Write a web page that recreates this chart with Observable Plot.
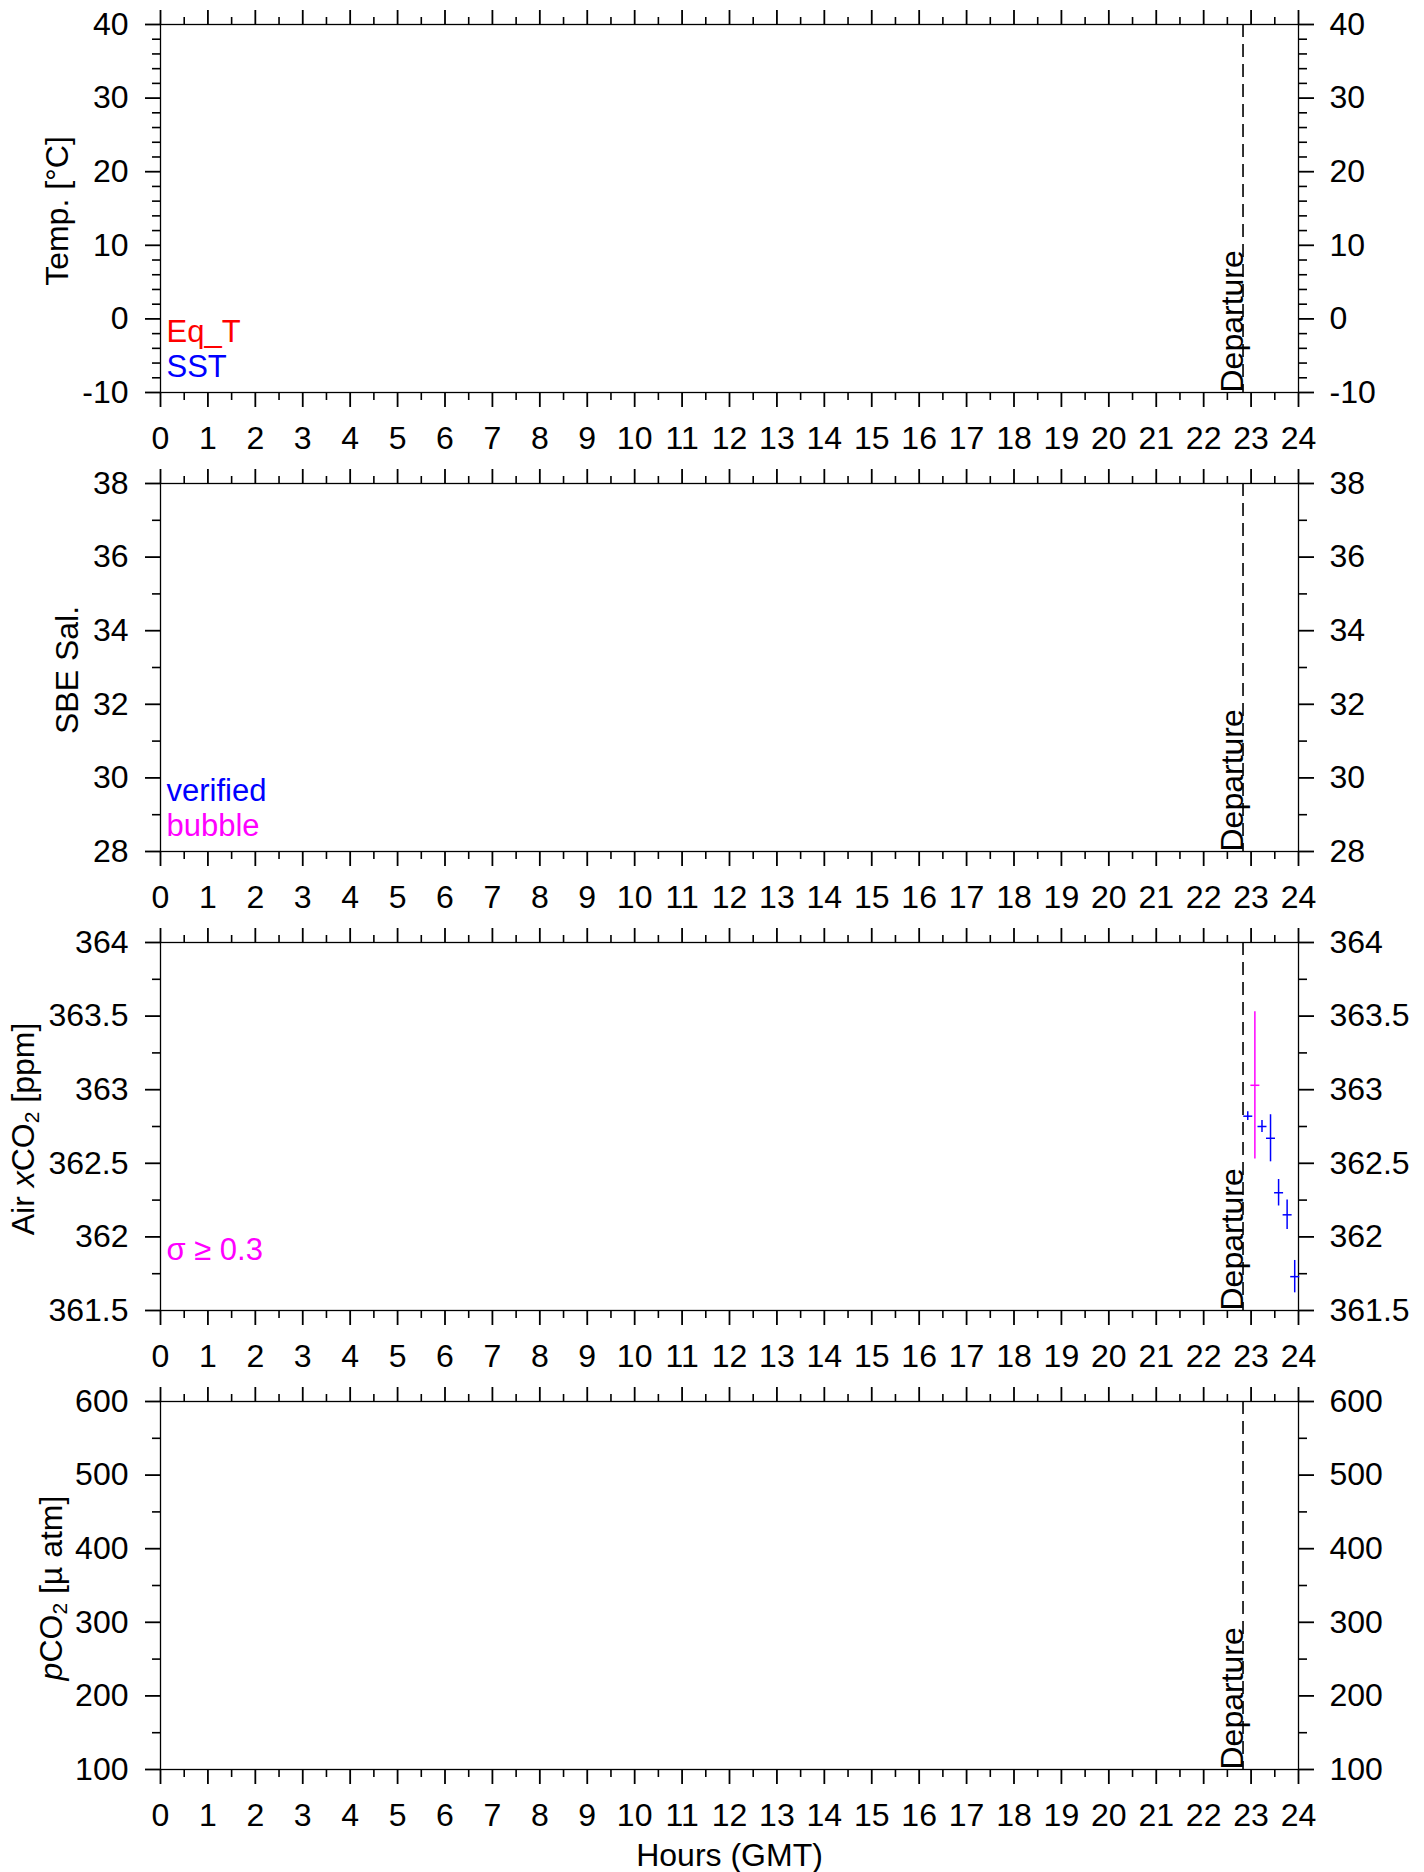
<!DOCTYPE html>
<html>
<head>
<meta charset="utf-8">
<script src="https://cdn.jsdelivr.net/npm/d3@7"></script>
<script src="https://cdn.jsdelivr.net/npm/@observablehq/plot@0.6"></script>
<style>
  body { margin: 0; background: #fff; }
  #chart { width: 1424px; }
  #chart svg { display: block; }
</style>
</head>
<body>
<div id="chart"></div>
<script>
// ---------- data ----------
const hourTicks = [0,1,2,3,4,5,6,7,8,9,10,11,12,13,14,15,16,17,18,19,20,21,22,23,24];
const departureHour = [22.83];
const departureLabel = "Departure";
const xTitle = "Hours (GMT)";

const tempTicks = [-10, 0, 10, 20, 30, 40];
const salTicks = [28, 30, 32, 34, 36, 38];
const xco2Ticks = [361.5, 362, 362.5, 363, 363.5, 364];
const pco2Ticks = [100, 200, 300, 400, 500, 600];

const xco2Hours  = [22.93, 23.08, 23.23, 23.41, 23.58, 23.76, 23.92];
const xco2Values = [362.82, 363.03, 362.75, 362.67, 362.30, 362.15, 361.73];
const xco2Sigma  = [0.03, 0.50, 0.04, 0.16, 0.09, 0.10, 0.11];
const xco2Flag   = ["verified", "bubble", "verified", "verified", "verified", "verified", "verified"];

const tempLegend = ["Eq_T", "SST"];
const tempLegendColors = ["#ff0000", "#0000ff"];
const salLegend = ["verified", "bubble"];
const salLegendColors = ["#0000ff", "#ff00ff"];
const xco2Legend = ["σ ≥ 0.3"];
const xco2LegendColors = ["#ff00ff"];

// ---------- layout ----------
const W = 1424, ML = 160, MR = 126, MT = 24, PH = 368, GAP = 67;
const FONT = "'Liberation Sans', Arial, Helvetica, sans-serif";
const FS = 32;
const fmt = d => String(d);
const blank = () => "";
const hourMinor = d3.range(0.5, 24, 1);
const legendDy = [-51, -16];

const hbar = {
  draw(ctx, size) {
    const r = Math.sqrt(size / Math.PI);
    ctx.moveTo(-r, 0);
    ctx.lineTo(r, 0);
  }
};

function panel(cfg) {
  const last = !!cfg.last;
  const H = MT + PH + (last ? 103 : GAP);
  const marks = [
    Plot.frame({stroke: "#000", strokeWidth: 1.3}),
    Plot.axisX({anchor: "bottom", ticks: hourMinor, tickSize: 8, tickFormat: blank, label: null, strokeWidth: 1.6}),
    Plot.axisX({anchor: "bottom", ticks: hourTicks, tickSize: 15, tickPadding: 19, tickFormat: fmt, label: null, strokeWidth: 1.8, fontSize: FS}),
    Plot.axisX({anchor: "top", ticks: hourMinor, tickSize: 8, tickFormat: blank, label: null, strokeWidth: 1.6}),
    Plot.axisX({anchor: "top", ticks: hourTicks, tickSize: 15, tickFormat: blank, label: null, strokeWidth: 1.8}),
    Plot.axisY({anchor: "left", ticks: cfg.yMinor, tickSize: 8, tickFormat: blank, label: null, strokeWidth: 1.6}),
    Plot.axisY({anchor: "left", ticks: cfg.yTicks, tickSize: 15, tickPadding: 17, tickFormat: fmt, label: null, strokeWidth: 1.8, fontSize: FS}),
    Plot.axisY({anchor: "right", ticks: cfg.yMinor, tickSize: 8, tickFormat: blank, label: null, strokeWidth: 1.6}),
    Plot.axisY({anchor: "right", ticks: cfg.yTicks, tickSize: 15, tickPadding: 16, tickFormat: fmt, label: null, strokeWidth: 1.8, fontSize: FS}),
    Plot.ruleX(departureHour, {x: d => d, stroke: "#000", strokeWidth: 1.6, strokeDasharray: "13,7"}),
    Plot.text(departureHour, {x: d => d, frameAnchor: "bottom", text: () => departureLabel, rotate: -90,
      textAnchor: "start", lineAnchor: "bottom", fontSize: FS, fill: "#000"}),
    ...cfg.legend.map((l, i) => Plot.text([l], {text: d => d, frameAnchor: "bottom-left", dx: 6, dy: legendDy[i],
      textAnchor: "start", lineAnchor: "bottom", fontSize: 31, fill: cfg.legendColors[i]}))
  ];
  if (cfg.extra) marks.push(...cfg.extra);
  if (last) marks.push(Plot.text([xTitle], {text: d => d, frameAnchor: "bottom", dy: 96, lineAnchor: "bottom", fontSize: FS, fill: "#000"}));
  const svg = Plot.plot({
    width: W, height: H,
    marginLeft: ML, marginRight: MR, marginTop: MT, marginBottom: H - MT - PH,
    style: {fontFamily: FONT, fontSize: "30px", color: "#000", background: "#fff", overflow: "visible"},
    x: {domain: [0, 24]},
    y: {domain: cfg.yDomain},
    color: cfg.color,
    marks
  });
  // y-axis title with rich text
  const t = d3.select(svg).append("text")
    .attr("transform", `translate(${cfg.titleX},${MT + PH / 2 + 3}) rotate(-90)`)
    .attr("text-anchor", "middle")
    .attr("font-family", FONT).attr("font-size", FS).attr("fill", "#000");
  for (const part of cfg.title) {
    const s = t.append("tspan").text(part.t);
    if (part.i) s.attr("font-style", "italic");
    if (part.sub) s.attr("font-size", 21).attr("dy", 5);
    if (part.up) s.attr("dy", -5);
  }
  return svg;
}

const xco2Data = xco2Hours.map((h, i) => ({hour: h, value: xco2Values[i], sigma: xco2Sigma[i], flag: xco2Flag[i]}));

const chart = document.getElementById("chart");
chart.append(panel({
  yDomain: [-10, 40], yTicks: tempTicks, yMinor: d3.range(-10, 40.1, 2).filter(v => v % 10 !== 0),
  legend: tempLegend, legendColors: tempLegendColors,
  titleX: 68, title: [{t: "Temp. [°C]"}]
}));
chart.append(panel({
  yDomain: [28, 38], yTicks: salTicks, yMinor: [29, 31, 33, 35, 37],
  legend: salLegend, legendColors: salLegendColors,
  titleX: 78, title: [{t: "SBE Sal."}]
}));
chart.append(panel({
  yDomain: [361.5, 364], yTicks: xco2Ticks, yMinor: [361.75, 362.25, 362.75, 363.25, 363.75],
  legend: xco2Legend, legendColors: xco2LegendColors,
  titleX: 34, title: [{t: "Air "}, {t: "x", i: true}, {t: "CO"}, {t: "2", sub: true}, {t: " [ppm]", up: true}],
  color: {domain: ["verified", "bubble"], range: ["#0000ff", "#ff00ff"]},
  extra: [
    Plot.ruleX(xco2Data, {x: "hour", y1: d => d.value - d.sigma, y2: d => d.value + d.sigma, stroke: "flag", strokeWidth: 1.5}),
    Plot.dot(xco2Data, {x: "hour", y: "value", symbol: hbar, r: 4.5, stroke: "flag", fill: "none", strokeWidth: 1.5})
  ]
}));
chart.append(panel({
  yDomain: [100, 600], yTicks: pco2Ticks, yMinor: [150, 250, 350, 450, 550],
  legend: [], legendColors: [],
  titleX: 62, title: [{t: "p", i: true}, {t: "CO"}, {t: "2", sub: true}, {t: " [µ atm]", up: true}],
  last: true
}));
</script>
</body>
</html>
